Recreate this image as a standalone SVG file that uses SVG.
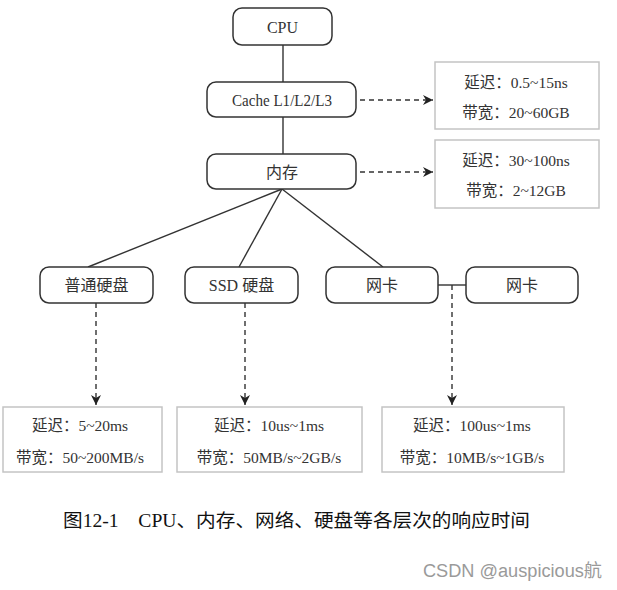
<svg xmlns="http://www.w3.org/2000/svg" width="617" height="590" viewBox="0 0 617 590">
<style>
.node rect{fill:#fff;stroke:#333;stroke-width:1.5}
.info rect{fill:#fff;stroke:#c4c4c4;stroke-width:1.5}
text{font-family:"Liberation Serif","Noto Sans CJK SC",serif;fill:#333;text-anchor:middle;dominant-baseline:central}
.lbl{font-size:16px}
.inf{font-size:15.5px}
.solid{stroke:#333;stroke-width:1.4;fill:none}
.dash{stroke:#333;stroke-width:1.4;fill:none;stroke-dasharray:5 4}
.cap{font-family:"Liberation Serif","Noto Sans CJK SC",serif;font-size:18.5px;fill:#111;text-anchor:start;dominant-baseline:alphabetic}
.wm{font-family:"Liberation Sans","Noto Sans CJK SC",sans-serif;font-size:18px;fill:#9a9a9a;text-anchor:start;dominant-baseline:alphabetic}
</style>
<defs>
<marker id="ah" viewBox="0 0 10 10" refX="10" refY="5" markerWidth="10" markerHeight="10" markerUnits="userSpaceOnUse" orient="auto">
<path d="M0,0 L10,5 L0,10 L3,5 Z" fill="#222"/>
</marker>
</defs>
<rect width="617" height="590" fill="#fff"/>
<g id="connectors">
<line class="solid" x1="283" y1="45" x2="283" y2="82"/>
<line class="solid" x1="283" y1="117" x2="283" y2="154"/>
<line class="solid" x1="282" y1="189" x2="88" y2="267"/>
<line class="solid" x1="282" y1="189" x2="239" y2="267"/>
<line class="solid" x1="282" y1="189" x2="383" y2="267"/>
<line class="solid" x1="438" y1="285" x2="466" y2="285"/>
<line class="dash" x1="360" y1="100" x2="433" y2="100" marker-end="url(#ah)"/>
<line class="dash" x1="360" y1="172" x2="433" y2="172" marker-end="url(#ah)"/>
<line class="dash" x1="96" y1="303" x2="96" y2="405" marker-end="url(#ah)"/>
<line class="dash" x1="245" y1="303" x2="245" y2="405" marker-end="url(#ah)"/>
<line class="dash" x1="452" y1="285" x2="452" y2="405" marker-end="url(#ah)"/>
</g>
<g id="cpu" class="node"><rect x="233" y="8" width="99" height="37" rx="9"/><text class="lbl" x="282.5" y="27">CPU</text></g>
<g id="cache" class="node"><rect x="207" y="82" width="149" height="35" rx="9"/><text class="lbl" x="282" y="100" textLength="100" lengthAdjust="spacingAndGlyphs">Cache L1/L2/L3</text></g>
<g id="memory" class="node"><rect x="207" y="154" width="149" height="35" rx="9"/><text class="lbl" x="282" y="172">内存</text></g>
<g id="hdd" class="node"><rect x="40" y="267" width="113" height="36" rx="9"/><text class="lbl" x="96.5" y="285">普通硬盘</text></g>
<g id="ssd" class="node"><rect x="185" y="267" width="113" height="36" rx="9"/><text class="lbl" x="241.5" y="285">SSD 硬盘</text></g>
<g id="nic1" class="node"><rect x="326" y="267" width="112" height="36" rx="9"/><text class="lbl" x="382" y="285">网卡</text></g>
<g id="nic2" class="node"><rect x="466" y="267" width="112" height="36" rx="9"/><text class="lbl" x="522" y="285">网卡</text></g>
<g id="info-cache" class="info"><rect x="435" y="62" width="164" height="67"/><text class="inf" x="516" y="82">延迟：0.5~15ns</text><text class="inf" x="516" y="112">带宽：20~60GB</text></g>
<g id="info-mem" class="info"><rect x="435" y="140" width="164" height="68"/><text class="inf" x="516" y="160">延迟：30~100ns</text><text class="inf" x="516" y="190">带宽：2~12GB</text></g>
<g id="info-hdd" class="info"><rect x="3" y="407" width="159" height="65"/><text class="inf" x="80" y="425">延迟：5~20ms</text><text class="inf" x="80" y="457">带宽：50~200MB/s</text></g>
<g id="info-ssd" class="info"><rect x="177" y="407" width="185" height="65"/><text class="inf" x="269" y="425">延迟：10us~1ms</text><text class="inf" x="269" y="457">带宽：50MB/s~2GB/s</text></g>
<g id="info-nic" class="info"><rect x="382" y="407" width="182" height="65"/><text class="inf" x="472" y="425">延迟：100us~1ms</text><text class="inf" x="472" y="457">带宽：10MB/s~1GB/s</text></g>
<text class="cap" x="63" y="527" textLength="467" lengthAdjust="spacingAndGlyphs">图12-1　CPU、内存、网络、硬盘等各层次的响应时间</text>
<text class="wm" x="423" y="577" textLength="179" lengthAdjust="spacingAndGlyphs">CSDN @auspicious航</text>
</svg>
